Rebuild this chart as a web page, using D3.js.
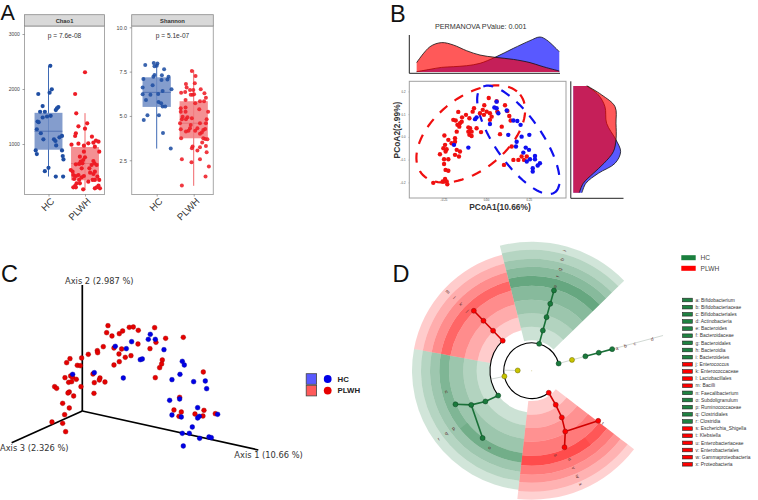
<!DOCTYPE html>
<html><head><meta charset="utf-8">
<script src="https://cdn.jsdelivr.net/npm/d3@7"></script>
<style>html,body{margin:0;padding:0;background:#fff}svg{display:block}text{font-family:"Liberation Sans",Arial,sans-serif}</style>
</head><body><svg id="c" width="758" height="500"></svg>
<script>
// ---------- Panel A data: [jitter, value]
const groupsA=["HC","PLWH"];
const chaoHC=[[.05,2421],[.09,1994],[.03,1933],[-.28,1909],[-.16,1689],[.27,1671],[.23,1647],[.2,1616],[-.23,1586],[-.1,1586],[.06,1512],[-.04,1500],[-.16,1482],[-.3,1409],[-.27,1397],[-.32,1268],[-.21,1195],[.37,1146],[.3,1122],[-.14,1085],[.15,1085],[.19,1055],[.21,975],[-.35,884],[.37,884],[-.32,817],[.39,780],[.41,720],[0,567],[-.1,506],[.2,408],[.4,408]];
const chaoPL=[[0,2305],[-.27,1909],[-.24,1558],[.06,1376],[-.18,1321],[0,1279],[-.25,1194],[-.27,1145],[.19,1133],[.3,1061],[.37,1042],[.23,1024],[.09,1012],[-.37,988],[-.18,1006],[-.03,970],[.27,952],[.39,861],[-.03,861],[-.14,770],[0,758],[-.05,709],[-.12,679],[.23,691],[-.07,649],[-.16,637],[-.25,630],[.26,649],[.18,618],[.32,618],[-.09,558],[.12,558],[-.39,527],[-.18,436],[-.34,497],[.27,497],[.14,479],[.23,455],[-.32,436],[-.25,418],[-.03,418],[-.09,394],[-.3,364],[-.16,346],[.34,406],[.39,346],[.09,315],[.21,346],[.27,346],[-.14,285],[-.23,285],[-.27,237],[-.32,212],[-.05,176],[.27,194],[.37,243],[.41,194],[.32,212],[-.25,212]];
const shanHC=[[-.31,7.87],[-.08,7.98],[.02,7.96],[0,7.83],[-.06,7.81],[.2,7.63],[-.06,7.31],[-.09,7.21],[.14,7.29],[-.36,7.08],[.32,7.21],[.29,7.06],[.13,7.03],[-.38,6.61],[-.11,6.73],[.4,6.5],[.16,6.41],[-.38,6.22],[-.17,6.2],[.04,6.24],[-.29,5.9],[.05,5.79],[.12,5.71],[.16,5.53],[.23,5.53],[-.25,5.04],[-.35,4.77],[.06,5.04],[.17,4.04],[.38,3.16]];
const shanPL=[[-.05,7.53],[.05,7.25],[-.21,6.8],[.03,6.84],[-.19,6.61],[-.1,6.46],[-.34,6.31],[-.23,6.35],[-.01,6.46],[.19,6.5],[.29,6.28],[-.08,6.2],[-.03,6.2],[.01,6.22],[.33,6.03],[-.22,5.9],[.04,5.71],[.17,5.83],[.28,5.83],[-.35,5.43],[-.22,5.47],[-.35,5.24],[-.22,5.24],[.15,5.38],[.39,5.23],[-.3,4.96],[-.17,4.92],[-.32,4.81],[-.21,4.81],[.35,4.81],[-.05,4.87],[-.37,4.59],[.17,4.59],[.33,4.59],[-.08,4.49],[.1,4.31],[-.35,4.25],[-.1,4.31],[-.21,4.12],[.04,4.17],[.26,4.21],[.31,4.27],[.22,4.06],[.17,3.99],[-.14,4.17],[-.34,3.74],[.26,3.74],[.31,3.7],[.37,3.69],[.23,3.5],[.33,3.31],[.17,3.24],[-.03,3.27],[-.05,3.18],[.1,3.05],[.35,2.95],[-.32,2.56],[.17,2.56],[-.06,2.39],[.41,2.15],[.32,1.58],[-.32,1.08]];
// box stats: [whiskerLow,q1,median,q3,whiskerHigh]
const chaoBoxes=[[408,896,1232,1567,2421],[158,341,646,945,1561]];
const shanBoxes=[[3.16,5.51,6.33,7.18,7.96],[1.06,3.74,4.59,5.83,7.59]];
const chaoTicks=[1000,2000,3000];
const shanTicks=[2.5,5,7.5,10];

// ---------- Panel B data
const pcoaRed=[[.016,.171],[.062,.157],[-.07,.126],[-.01,.139],[-.019,.119],[.004,.111],[.023,.104],[.111,.139],[.125,.114],[.066,.111],[-.162,.11],[-.191,.075],[-.14,.086],[-.117,.097],[-.097,.082],[-.078,.111],[-.035,.104],[-.012,.097],[.033,.089],[.136,.092],[.144,.072],[-.177,.072],[-.152,.06],[-.142,.067],[-.167,.053],[-.156,.045],[-.103,.042],[-.093,.038],[-.055,.038],[-.029,.021],[-.103,.023],[-.084,.023],[-.097,.009],[-.084,.004],[-.171,.023],[-.243,.006],[-.181,-.006],[-.22,-.013],[-.181,-.021],[-.201,-.028],[-.239,-.035],[-.249,-.05],[-.23,-.054],[-.236,-.064],[-.171,-.057],[-.152,-.064],[-.269,-.076],[-.181,-.079],[-.158,-.086],[-.245,-.098],[-.22,-.098],[-.245,-.119],[-.236,-.145],[-.22,-.149],[-.239,-.185],[-.23,-.196],[-.253,-.196],[-.308,-.202],[-.226,-.208],[.023,.075],[.092,.045],[.082,.012],[.16,-.101],[.189,-.101],[.208,-.086],[.238,-.086],[.222,-.101],[.105,-.123],[.15,-.042]];
const pcoaBlue=[[.062,.155],[.049,.129],[.062,.126],[.121,.116],[.072,.104],[-.055,.086],[-.064,.078],[.023,.057],[.16,.072],[.183,.07],[.202,.053],[.13,.009],[.208,.001],[.253,.009],[.179,-.021],[.175,-.042],[-.187,-.035],[-.103,-.047],[.218,-.069],[.232,-.047],[.251,-.057],[.286,-.084],[.286,-.098],[.315,-.116],[.302,-.126],[.273,-.138],[.273,-.152],[.257,-.098],[.238,-.108]];
// ellipse: centre, major-axis vector, minor-axis vector (data units)
const ellipseRed={c:[-.089,.013],a:[.2886,.1727],b:[.1326,-.1257]};
const ellipseBlue={c:[.189,-.013],a:[.213,-.231],b:[.112,.0585]};
const densXGrid=[-.405,-.327,-.259,-.191,-.113,-.035,.053,.16,.257,.315,.354,.428];
const densXRed=[.67,1.81,2.1,1.93,1.52,1.21,1.05,.9,.67,.45,.31,.07];
const densXBlue=[.02,.19,.33,.38,.45,.62,1.05,1.69,2.24,2.5,2.29,1.45];
const densYGrid=[.224,.185,.133,.06,-.013,-.065,-.116,-.16,-.204,-.245];
const densYRed=[1,2.02,2.98,3.05,3.05,2.86,2.19,1.43,.71,.43];
const densYBlue=[.95,1.79,2.26,2.38,3.05,3.38,2.98,1.79,.9,.62];
const bXTicks=[-.25,0,.25];
const bYTicks=[-.2,-.1,0,.1,.2];

// ---------- Panel C data: projected PCoA coordinates
const pc3Red=[[77,256],[73,235],[89,225],[111,232],[121,240],[141,251],[153,252],[168,242],[217,250],[250,218],[303,221],[221,206],[167,201],[203,187],[118,186],[95,189],[63,193],[45,181],[46,175],[18,170],[-2,159],[-37,157],[-47,145],[-15,137],[-6,136],[110,171],[129,161],[146,166],[111,148],[95,138],[240,153],[238,141],[232,130],[219,100],[363,117],[32,111],[-52,100],[-35,105],[-29,101],[-18,95],[-41,86],[-32,88],[53,99],[51,93],[36,85],[68,87],[-4,73],[-83,73],[-77,68],[35,53],[-39,57],[-43,54],[-26,45],[-59,23],[-39,9],[-53,-11],[-91,-33],[-59,-37],[-50,-62],[292,41],[275,3],[297,-3],[290,-16],[338,-9],[365,2],[362,-15],[399,-8]];
const pc3Blue=[[204,230],[198,215],[219,215],[148,208],[99,194],[132,187],[245,184],[174,154],[180,156],[300,149],[306,138],[36,115],[-29,110],[123,99],[293,110],[269,94],[334,88],[369,90],[373,67],[292,36],[262,32],[346,10],[269,-12],[297,-18],[351,-16],[346,-21],[406,-10],[330,-48],[300,-67],[321,-67],[352,-82],[380,-78],[387,-80],[303,-105]];
const pc3Axes=[[528,-117],[0,378],[-212,-95]];

// ---------- Panel D data: compass angle (deg), depth
const cladeNames=["a: Bifidobacterium","b: Bifidobacteriaceae","c: Bifidobacteriales","d: Actinobacteria","e: Bacteroides","f: Bacteroidaceae","g: Bacteroidales","h: Bacteroidia","i: Bacteroidetes","j: Enterococcus","k: Enterococcaceae","l: Lactobacillales","m: Bacilli","n: Faecalibacterium","o: Subdoligranulum","p: Ruminococcaceae","q: Clostridiales","r: Clostridia","s: Escherichia_Shigella","t: Klebsiella","u: Enterobacteriaceae","v: Enterobacteriales","w: Gammaproteobacteria","x: Proteobacteria"];
const cladeGroup=["HC","HC","HC","HC","HC","HC","HC","HC","HC","PLWH","PLWH","PLWH","PLWH","HC","HC","HC","HC","HC","PLWH","PLWH","PLWH","PLWH","PLWH","PLWH"];
const rimBands=[30.4,44,57.4,71,85,95,104,112,121,129];
const hubBands=[41.7,55,68.4,82.7,92.4,101.7,110.7,119.7];
const rimGreenAlpha=[.2,.3,.39,.47,.6,.47,.38,.29,.18];
const rimRedAlpha=[.2,.33,.43,.52,.66,.52,.42,.3,.18];
const hubGreenAlpha=[.2,.3,.39,.5,.38,.29,.18];
const hubRedAlpha=[.2,.33,.45,.6,.45,.32,.2];
const sectors=[
 {g:"HC",from:-14.3,to:45.8,bands:rimBands,alpha:rimGreenAlpha},
 {g:"PLWH",from:127.5,to:186.4,bands:rimBands,alpha:rimRedAlpha},
 {g:"HC",from:186.4,to:280.5,bands:hubBands,alpha:hubGreenAlpha},
 {g:"PLWH",from:280.5,to:345.7,bands:hubBands,alpha:hubRedAlpha}];
const subPatches=[{g:"PLWH",from:141.5,to:186.4,r0:85,r1:95,a:.12},{g:"HC",from:186.4,to:231,r0:82.7,r1:92.4,a:.1}];
const ringArcs=[{from:142.3,to:435,depth:2},{from:233.4,to:316,depth:3}];
const thinLinks=[[[271,2],[271,1]],[[258.3,2],[258.3,3]],[[75,2],[75,3],[75,4]],[[75,6],[75,9.8]]];
const thickLinks=[
 {g:"HC",p:[[75,4],[75,5],[75,6]]},
 {g:"HC",p:[[15.5,2],[15.5,3],[15.5,4],[15.5,5],[15.5,6]]},
 {g:"PLWH",p:[[316,3],[316,4],[316,5],[316,6]]},
 {g:"PLWH",p:[[142.3,2],[144.8,3],[147.2,4],[151.1,5],[156.8,6]]},
 {g:"PLWH",p:[[151.1,5],[127,6]]},
 {g:"HC",p:[[233.4,3],[236.4,4],[240.5,5],[246.2,6]]},
 {g:"HC",p:[[240.5,5],[216.1,6]]}];
const cladeNodes=[
 {g:"Y",a:271,d:1},{g:"Y",a:258.3,d:2},{g:"HC",a:75,d:2},{g:"Y",a:75,d:3},{g:"HC",a:75,d:4},{g:"HC",a:75,d:5},{g:"HC",a:75,d:6},
 {g:"HC",a:15.5,d:2},{g:"HC",a:15.5,d:3},{g:"HC",a:15.5,d:4},{g:"HC",a:15.5,d:5},{g:"HC",a:15.5,d:6},
 {g:"PLWH",a:316,d:3},{g:"PLWH",a:316,d:4},{g:"PLWH",a:316,d:5},{g:"PLWH",a:316,d:6},
 {g:"PLWH",a:142.3,d:2},{g:"PLWH",a:144.8,d:3},{g:"PLWH",a:147.2,d:4},{g:"PLWH",a:151.1,d:5},{g:"PLWH",a:156.8,d:6},{g:"PLWH",a:127,d:6},
 {g:"HC",a:233.4,d:3},{g:"HC",a:236.4,d:4},{g:"HC",a:240.5,d:5},{g:"HC",a:246.2,d:6},{g:"HC",a:216.1,d:6}];
// letter, compass angle, radial position in px
const cladeLabels=[["a",75.3,88],["b",75.3,97],["c",75.3,106.5],["d",75.3,124.5],["e",15.6,87.7],["f",15.6,97.7],["g",15.5,105.3],["h",15.5,115.3],["i",15.4,124.3],["j",313.2,87.7],["k",313.2,97],["l",313.2,106.5],["m",313.2,115.3],["n",256.2,88],["o",208.8,88],["p",233.6,97.3],["q",233.7,106],["r",233.7,115.3],["s",164.3,87.7],["t",126.6,88.3],["u",156.8,96.3],["v",156.8,106],["w",156.6,115],["x",156.7,123.7]];

// ---------- Drawing
const svg=d3.select("#c");
const PT={HC:"#1f4ea3",PLWH:"#ee1c25"}, BOX={HC:"#6f8cc4",PLWH:"#f27c80"}, WH={HC:"#3f6ab5",PLWH:"#f0666b"}, MED={HC:"#3f62a8",PLWH:"#e0686c"};

function boxPanel(o){
 const g=svg.append("g");
 const x=d3.scalePoint().domain(groupsA).range(o.xr);
 const y=d3.scaleLinear().domain(o.yd).range(o.yr);
 const st=x.step();
 g.append("rect").attr("x",o.l).attr("y",26).attr("width",o.r-o.l).attr("height",168.5).attr("fill","#fff");
 const boxes=groupsA.map((k,i)=>({k,s:o.boxes[i]}));
 boxes.forEach(b=>{
  const cx=x(b.k),w=st*.765;
  g.append("line").attr("x1",cx).attr("x2",cx).attr("y1",y(b.s[0])).attr("y2",y(b.s[4])).attr("stroke",WH[b.k]).attr("stroke-width",1);
  g.append("rect").attr("x",cx-w/2).attr("width",w).attr("y",y(b.s[3])).attr("height",y(b.s[1])-y(b.s[3])).attr("fill",BOX[b.k]).attr("opacity",.85);
  g.append("line").attr("x1",cx-w/2).attr("x2",cx+w/2).attr("y1",y(b.s[2])).attr("y2",y(b.s[2])).attr("stroke",MED[b.k]).attr("stroke-width",.7);
 });
 [[o.hc,"HC"],[o.pl,"PLWH"]].forEach(([arr,k])=>{
  g.selectAll(null).data(arr).join("circle").attr("cx",d=>x(k)+d[0]*st).attr("cy",d=>y(d[1])).attr("r",o.pr).attr("fill",PT[k]).attr("opacity",o.po);
 });
 g.append("rect").attr("x",o.l).attr("y",26).attr("width",o.r-o.l).attr("height",168.5).attr("fill","none").attr("stroke","#a8a8a8").attr("stroke-width",1);
 g.append("rect").attr("x",o.l).attr("y",14.7).attr("width",o.r-o.l).attr("height",11.3).attr("fill","#d9d9d9").attr("stroke","#8a8a8a").attr("stroke-width",.8);
 g.append("text").attr("x",(o.l+o.r)/2).attr("y",22.6).attr("text-anchor","middle").attr("font-size",5.8).attr("font-weight","bold").attr("fill","#333").text(o.title);
 g.append("text").attr("x",(o.l+o.r)/2).attr("y",38).attr("text-anchor","middle").attr("font-size",6.6).attr("fill","#333").text(o.p);
 const ay=g.append("g").attr("transform",`translate(${o.l},0)`).call(d3.axisLeft(y).tickValues(o.ticks).tickSize(2).tickFormat(o.fmt));
 ay.select(".domain").remove();
 ay.selectAll("text").attr("font-size",o.tfs).attr("fill","#444").attr("dx",".3");
 ay.selectAll("line").attr("stroke","#666").attr("stroke-width",.6);
 const ax=g.append("g").attr("transform",`translate(0,194.5)`).call(d3.axisBottom(x).tickSize(2));
 ax.select(".domain").remove();
 ax.selectAll("line").attr("stroke","#666").attr("stroke-width",.6);
 ax.selectAll("text").attr("font-size",9.6).attr("fill","#333").attr("text-anchor","end").attr("transform","rotate(-45)").attr("dx","-1").attr("dy","4.5");
}
boxPanel({l:24.5,r:104.5,xr:[48.5,85],yd:[0,3000],yr:[199,34],boxes:chaoBoxes,hc:chaoHC,pl:chaoPL,pr:2.1,po:1,title:"Chao1",p:"p = 7.6e-08",ticks:chaoTicks,fmt:d3.format("d"),tfs:5});
boxPanel({l:131.7,r:213.3,xr:[156.7,193.7],yd:[0,10],yr:[204.6,27.3],boxes:shanBoxes,hc:shanHC,pl:shanPL,pr:2,po:.88,title:"Shannon",p:"p = 5.1e-07",ticks:shanTicks,fmt:d3.format(".1f"),tfs:5.4});

// panel letters
[["A",0.5,19.5,21.5],["B",390,21.5,23.5],["C",1,281.5,23.5],["D",392.5,281.5,23.5]].forEach(t=>svg.append("text").attr("x",t[1]).attr("y",t[2]).attr("font-size",t[3]).attr("fill","#111").text(t[0]));

// Panel B
const bx=d3.scaleLinear().domain([-.25,.25]).range([443.2,528.8]);
const by=d3.scaleLinear().domain([-.2,.2]).range([182.4,91.4]);
svg.append("text").attr("x",480.7).attr("y",29).attr("text-anchor","middle").attr("font-size",7.2).attr("fill","#333").text("PERMANOVA PValue: 0.001");
// top density
const dTop=d3.scaleLinear().domain([0,2.5]).range([72,37]);
[[densXBlue,"#0000ff"],[densXRed,"#ff0000"]].forEach(([v,c])=>{
 const pts=densXGrid.map((g,i)=>[g,v[i]]);
 svg.append("path").datum(pts).attr("d",d3.area().x(d=>bx(d[0])).y0(dTop(0)).y1(d=>dTop(d[1])).curve(d3.curveCatmullRom)).attr("fill",c).attr("fill-opacity",.65);
 svg.append("path").datum(pts).attr("d",d3.line().x(d=>bx(d[0])).y(d=>dTop(d[1])).curve(d3.curveCatmullRom)).attr("fill","none").attr("stroke","#111").attr("stroke-width",.8);
});
svg.append("path").attr("d","M409.3,35V73.3H560").attr("fill","none").attr("stroke","#222").attr("stroke-width",1);
// right density
const dRight=d3.scaleLinear().domain([0,3.4]).range([573.3,620.9]);
[[densYBlue,"#0000ff"],[densYRed,"#ff0000"]].forEach(([v,c])=>{
 const pts=densYGrid.map((g,i)=>[g,v[i]]);
 svg.append("path").datum(pts).attr("d",d3.area().y(d=>by(d[0])).x0(dRight(0)).x1(d=>dRight(d[1])).curve(d3.curveCatmullRom)).attr("fill",c).attr("fill-opacity",.65);
 svg.append("path").datum(pts).attr("d",d3.line().y(d=>by(d[0])).x(d=>dRight(d[1])).curve(d3.curveCatmullRom)).attr("fill","none").attr("stroke","#111").attr("stroke-width",.8);
});
svg.append("path").attr("d","M570.8,81.3V198.3H623.5").attr("fill","none").attr("stroke","#222").attr("stroke-width",1);
// main scatter
svg.append("rect").attr("x",409.3).attr("y",81.3).attr("width",156.7).attr("height",116.7).attr("fill","none").attr("stroke","#a0a0a0").attr("stroke-width",1);
const bax=svg.append("g").attr("transform","translate(0,198)").call(d3.axisBottom(bx).tickValues(bXTicks).tickSize(1).tickPadding(0.5).tickFormat(d3.format(".2f")));
bax.select(".domain").remove();bax.selectAll("text").attr("font-size",2.8).attr("fill","#444").attr("dy",".6em");bax.selectAll("line").attr("stroke","#888").attr("stroke-width",.4);
const bay=svg.append("g").attr("transform","translate(409.3,0)").call(d3.axisLeft(by).tickValues(bYTicks).tickSize(1).tickFormat(d3.format(".1f")));
bay.select(".domain").remove();bay.selectAll("text").attr("font-size",2.8).attr("fill","#444").attr("dx",".2");bay.selectAll("line").attr("stroke","#888").attr("stroke-width",.4);
function ellipsePts(e){return d3.range(0,361,4).map(t=>{const r=t*Math.PI/180;return [e.c[0]+Math.cos(r)*e.a[0]+Math.sin(r)*e.b[0],e.c[1]+Math.cos(r)*e.a[1]+Math.sin(r)*e.b[1]];});}
const ln=d3.line().x(d=>bx(d[0])).y(d=>by(d[1]));
[[ellipseRed,"#f00f0f"],[ellipseBlue,"#1010ee"]].forEach(([e,c])=>svg.append("path").attr("d",ln(ellipsePts(e))).attr("fill","none").attr("stroke",c).attr("stroke-width",2.2).attr("stroke-dasharray","10 9"));
svg.selectAll(null).data(pcoaRed).join("circle").attr("cx",d=>bx(d[0])).attr("cy",d=>by(d[1])).attr("r",2.2).attr("fill","#f01010");
svg.selectAll(null).data(pcoaBlue).join("circle").attr("cx",d=>bx(d[0])).attr("cy",d=>by(d[1])).attr("r",2.2).attr("fill","#1010f0");
svg.append("text").attr("x",500).attr("y",210).attr("text-anchor","middle").attr("font-size",8.4).attr("font-weight","bold").attr("fill","#333").text("PCoA1(10.66%)");
svg.append("text").attr("transform","translate(400,130) rotate(-90)").attr("text-anchor","middle").attr("font-size",8.4).attr("font-weight","bold").attr("fill","#333").text("PCoA2(2.99%)");

// Panel C
const cx3=d3.scaleLinear().domain([0,300]).range([82.3,182.3]);
const cy3=d3.scaleLinear().domain([0,300]).range([411,311]);
pc3Axes.forEach(a=>svg.append("line").attr("x1",cx3(0)).attr("y1",cy3(0)).attr("x2",cx3(a[0])).attr("y2",cy3(a[1])).attr("stroke","#000").attr("stroke-width",1.7));
svg.selectAll(null).data(pc3Red).join("circle").attr("cx",d=>cx3(d[0])).attr("cy",d=>cy3(d[1])).attr("r",2.4).attr("fill","#e60000").attr("stroke","#a00000").attr("stroke-width",.4);
svg.selectAll(null).data(pc3Blue).join("circle").attr("cx",d=>cx3(d[0])).attr("cy",d=>cy3(d[1])).attr("r",2.4).attr("fill","#0000e6").attr("stroke","#0000a0").attr("stroke-width",.4);
[["Axis 2 (2.987 %)",65,283.5],["Axis 3 (2.326 %)",0,451],["Axis 1 (10.66 %)",234.3,457.8]].forEach(t=>svg.append("text").attr("x",t[1]).attr("y",t[2]).attr("font-size",8.3).attr("fill","#333").style("font-family","DejaVu Sans").text(t[0]));
[["HC","#5a5aff","#0000e6"],["PLWH","#ff5a5a","#e60000"]].forEach((r,i)=>{
 const yy=[379,390.6][i];
 svg.append("rect").attr("x",306.2).attr("y",yy-5.3).attr("width",10.4).attr("height",10.6).attr("fill",r[1]).attr("stroke","#444").attr("stroke-width",.8);
 svg.append("circle").attr("cx",327.7).attr("cy",yy).attr("r",3.9).attr("fill",r[2]);
 svg.append("text").attr("x",337.5).attr("y",yy+2.8).attr("font-size",7.8).attr("font-weight","bold").attr("fill","#222").text(r[0]);
});

// Panel D
const dg=svg.append("g").attr("transform","translate(531.7,370.7)");
const rd=d3.scaleLinear().domain([1,6]).range([14,83.3]);
const rad=a=>a*Math.PI/180;
const CL={HC:"#006d2c",PLWH:"#ff0000"};
const arc=d3.arc();
sectors.forEach(s=>{
 s.alpha.forEach((al,i)=>dg.append("path").attr("d",arc({innerRadius:s.bands[i],outerRadius:s.bands[i+1],startAngle:rad(s.from),endAngle:rad(s.to)})).attr("fill",CL[s.g]).attr("fill-opacity",al));
});
subPatches.forEach(s=>dg.append("path").attr("d",arc({innerRadius:s.r0,outerRadius:s.r1,startAngle:rad(s.from),endAngle:rad(s.to)})).attr("fill",CL[s.g]).attr("fill-opacity",s.a));
ringArcs.forEach(r=>dg.append("path").attr("d",arc({innerRadius:rd(r.depth),outerRadius:rd(r.depth),startAngle:rad(r.from),endAngle:rad(r.to)})).attr("fill","none").attr("stroke","#000").attr("stroke-width",1.1));
const lr=d3.line().x(d=>d3.pointRadial(rad(d[0]),rd(d[1]))[0]).y(d=>d3.pointRadial(rad(d[0]),rd(d[1]))[1]);
thinLinks.forEach(p=>dg.append("path").attr("d",lr(p)).attr("fill","none").attr("stroke","#a8b8ae").attr("stroke-width",.55));
const LK={HC:"#1a7038",PLWH:"#d00000"};
thickLinks.forEach(l=>dg.append("path").attr("d",lr(l.p)).attr("fill","none").attr("stroke",LK[l.g]).attr("stroke-width",1.6));
const NF={HC:"#1a7a3c",PLWH:"#ff0000",Y:"#c8c400"},NS={HC:"#0d4020",PLWH:"#8a1010",Y:"#6a6800"};
dg.selectAll(null).data(cladeNodes).join("circle").attr("cx",d=>d3.pointRadial(rad(d.a),rd(d.d))[0]).attr("cy",d=>d3.pointRadial(rad(d.a),rd(d.d))[1]).attr("r",2.5).attr("fill",d=>NF[d.g]).attr("stroke",d=>NS[d.g]).attr("stroke-width",.5);
dg.append("circle").attr("r",.5).attr("fill","#cfc98a");
dg.selectAll(null).data(cladeLabels).join("text").attr("transform",d=>{const p=d3.pointRadial(rad(d[1]),d[2]);return `translate(${p[0]},${p[1]}) rotate(${d[1]>180?d[1]-270:d[1]-90})`;}).attr("text-anchor","middle").attr("dy","1.5").attr("font-size",4.8).attr("fill","#5a2a2a").text(d=>d[0]);

// D legend
[["HC",257.7],["PLWH",268.3]].forEach(r=>{
 svg.append("rect").attr("x",681.3).attr("y",r[1]-2.5).attr("width",14.4).attr("height",5).attr("fill",r[0]=="HC"?"#1a7f3e":"#ff0000");
 svg.append("text").attr("x",700.6).attr("y",r[1]+2.4).attr("font-size",6.6).attr("fill","#444").text(r[0]);
});
const rowY=d3.scaleLinear().domain([0,23]).range([300,464.3]);
cladeNames.forEach((n,i)=>{
 svg.append("rect").attr("x",682.5).attr("y",rowY(i)-1.8).attr("width",9.8).attr("height",3.6).attr("fill",cladeGroup[i]=="HC"?"#1f8242":"#ff0000").attr("stroke","#222").attr("stroke-width",.6);
 svg.append("text").attr("x",695.6).attr("y",rowY(i)+1.7).attr("font-size",4.9).attr("fill","#333").text(n);
});
</script></body></html>
